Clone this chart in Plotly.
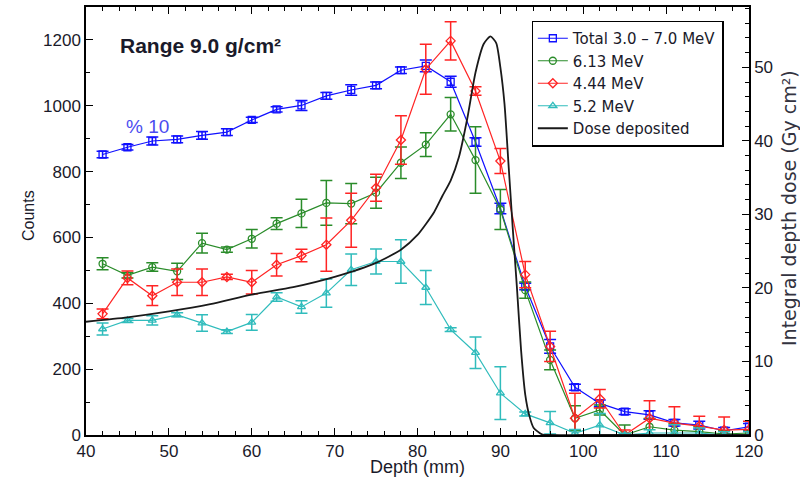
import plotly.graph_objects as go

# ---------------- data ----------------
depth = [42, 45, 48, 51, 54, 57, 60, 63, 66, 69, 72, 75, 78, 81, 84, 87, 90, 93, 96, 99,
         102, 105, 108, 111, 114, 117, 120]

total = [852, 874, 893, 898, 910, 920, 957, 989, 1001, 1030, 1048, 1062, 1108, 1121, 1073,
         890, 688, 451, 269, 145, 96, 71, 61, 37, 30, 13, 25]
total_err = [10, 8, 12, 10, 12, 10, 8, 8, 15, 10, 16, 10, 10, 18, 17, 13, 16, 10, 21, 9,
             10, 9, 13, 10, 12, 10, 10]

g613 = [520, 485, 510, 497, 583, 563, 596, 642, 673, 705, 703, 736, 827, 882, 974, 835, 685,
        440, 228, 51, 76, 0, 25, 15, 10, 3, 6]
g613_err = [18, 8, 13, 25, 30, 8, 28, 18, 43, 68, 61, 47, 48, 36, 51, 101, 61, 25, 30, 38,
            15, 30, 25, 20, 15, 10, 10]

r444 = [368, 477, 423, 464, 464, 480, 464, 517, 545, 578, 652, 751, 896, 1111, 1197, 1045,
        832, 487, 269, 51, 110, 0, 51, 36, 27, 15, 17]
r444_err = [15, 21, 30, 40, 40, 8, 36, 34, 19, 81, 82, 41, 74, 76, 58, 13, 38, 40, 46, 76,
            28, 15, 53, 50, 30, 40, 25]

c52 = [322, 348, 348, 365, 340, 314, 342, 419, 389, 431, 502, 527, 527, 448, 320, 250, 127,
       64, 37, 5, 30, 0, 6, 6, 6, 0, 0]
c52_err = [18, 6, 14, 6, 25, 6, 24, 13, 19, 43, 48, 38, 66, 52, 6, 48, 80, 6, 34, 12, 35, 5,
           10, 25, 15, 10, 10]

dose_depth = [40, 45, 50, 55, 60, 65, 70, 75, 78, 80, 82, 83, 84, 85, 86, 87, 88, 88.8, 89.5,
              90, 90.5, 91, 91.5, 92, 92.5, 93, 93.5, 94, 95, 96, 100, 110, 120]
dose = [15.4, 16.0, 16.8, 17.8, 19.1, 20.1, 21.5, 23.4, 25.2, 27.2, 30.3, 32.5, 34.6, 37.8,
        43.0, 49.3, 53.2, 54.2, 53.3, 50.0, 45.0, 36.5, 28.0, 20.0, 11.5, 5.5, 2.6, 1.0, 0.1,
        0, 0, 0, 0]

names = ["Total 3.0 \u2013 7.0 MeV", "6.13 MeV", "4.44 MeV", "5.2 MeV", "Dose deposited"]

# ---------------- figure ----------------
FONT = "Liberation Sans, Arial, sans-serif"
WIDE = "DejaVu Sans, Liberation Sans, sans-serif"
TXT = "#1a1a2a"

fig = go.Figure()

series = [
    (total, total_err, "#1010ff", "square-open", names[0]),
    (g613, g613_err, "#2a8c2a", "circle-open", names[1]),
    (r444, r444_err, "#ff2424", "diamond-open", names[2]),
    (c52, c52_err, "#30bcbc", "triangle-up-open", names[3]),
]
for vals, errs, col, sym, nm in series:
    fig.add_trace(go.Scatter(
        x=depth, y=vals, name=nm, mode="lines+markers",
        line=dict(color=col, width=1.2),
        marker=dict(symbol=sym, size=7, color=col, line=dict(width=1.3, color=col)),
        error_y=dict(type="data", array=errs, visible=True, color=col,
                     thickness=1.5, width=6),
        yaxis="y",
    ))

fig.add_trace(go.Scatter(
    x=dose_depth, y=dose, name=names[4], mode="lines",
    line=dict(color="#1a1a1a", width=1.8, shape="spline", smoothing=0.6),
    yaxis="y2",
))

axis_common = dict(
    showline=True, linecolor="black", linewidth=1.5,
    ticks="inside", tickcolor="black", ticklen=7, tickwidth=1.3,
    showgrid=False, zeroline=False, automargin=False,
    tickfont=dict(family=FONT, size=17, color=TXT),
)

fig.update_layout(
    width=800, height=480,
    margin=dict(l=86, r=51, t=7, b=45, autoexpand=False),
    paper_bgcolor="white", plot_bgcolor="white",
    showlegend=True,
    xaxis=dict(
        range=[40, 120], dtick=10, mirror="ticks",
        minor=dict(dtick=2, ticks="inside", ticklen=4, tickcolor="black", tickwidth=1),
        **axis_common,
    ),
    yaxis=dict(
        range=[0, 1300], dtick=200,
        minor=dict(dtick=100, ticks="inside", ticklen=4, tickcolor="black", tickwidth=1),
        **axis_common,
    ),
    yaxis2=dict(
        range=[0, 58.2], dtick=10, overlaying="y", side="right",
        minor=dict(dtick=2, ticks="inside", ticklen=4, tickcolor="black", tickwidth=1),
        **axis_common,
    ),
    legend=dict(
        x=0.672, y=0.968, xanchor="left", yanchor="top",
        bgcolor="white", bordercolor="black", borderwidth=1.3,
        font=dict(family=WIDE, size=15, color=TXT),
        tracegroupgap=0, itemwidth=30,
    ),
    annotations=[
        dict(text="<b>Range 9.0 g/cm\u00b2</b>", xref="paper", yref="paper",
             x=0.173, y=0.911, xanchor="center", yanchor="middle", showarrow=False,
             font=dict(family=FONT, size=21, color=TXT)),
        dict(text="% 10", xref="paper", yref="paper",
             x=0.0935, y=0.72, xanchor="center", yanchor="middle", showarrow=False,
             font=dict(family=FONT, size=19, color="#4b4bf0")),
        # axis titles
        dict(text="Depth (mm)", xref="paper", yref="paper",
             x=0.50, y=(435 - 467) / 428, xanchor="center", yanchor="middle",
             showarrow=False, font=dict(family=FONT, size=18, color=TXT)),
        dict(text="Counts", xref="paper", yref="paper", textangle=-90,
             x=(28 - 86) / 663, y=(435 - 216) / 428, xanchor="center", yanchor="middle",
             showarrow=False, font=dict(family=FONT, size=16, color=TXT)),
        dict(text="Integral depth dose (Gy cm\u00b2)", xref="paper", yref="paper",
             textangle=-90,
             x=(789 - 86) / 663, y=(435 - 208) / 428, xanchor="center", yanchor="middle",
             showarrow=False, font=dict(family=WIDE, size=19, color="#333340")),
    ],
)

fig.write_html("out.html", config={"displayModeBar": False},
               post_script="document.body.style.margin='0';document.body.style.padding='0';")
